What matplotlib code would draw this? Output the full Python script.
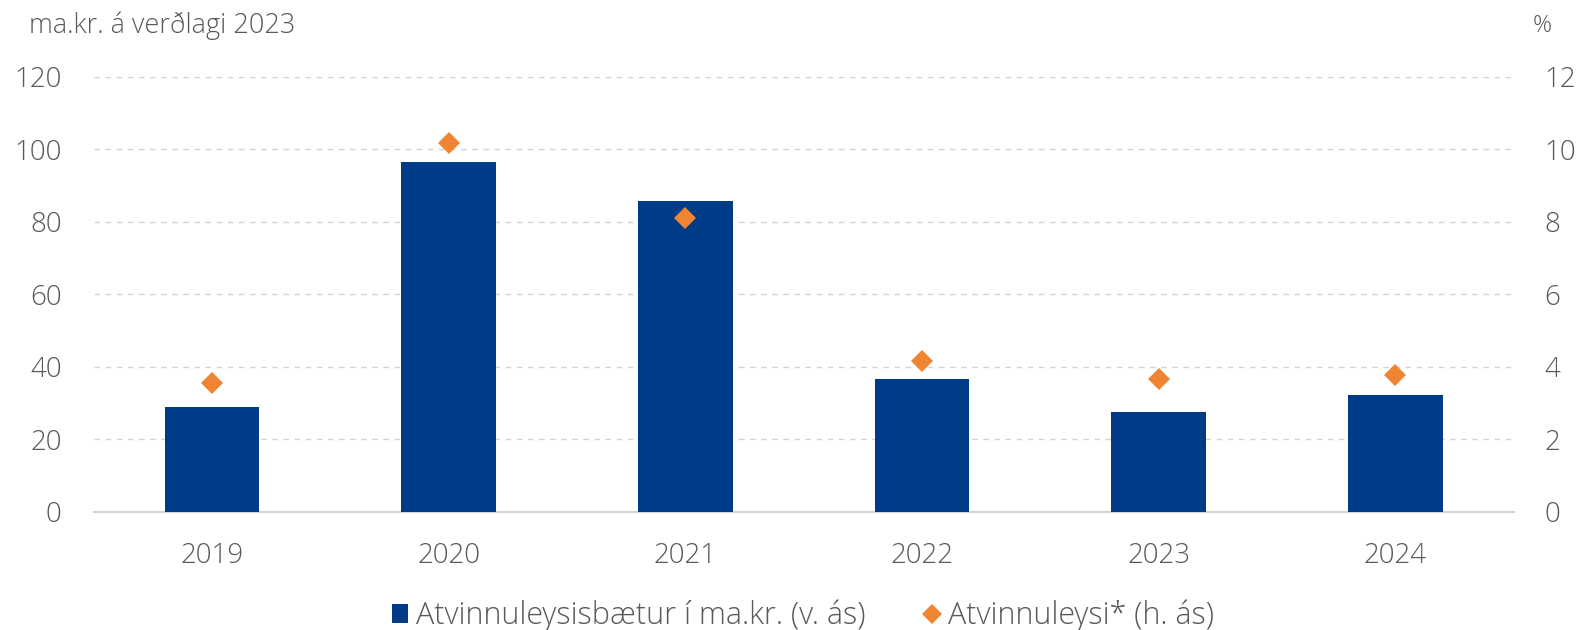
import numpy as np
import matplotlib
matplotlib.use('Agg')
import matplotlib.pyplot as plt
from matplotlib.patches import Patch
from matplotlib.lines import Line2D

# data
years = ['2019', '2020', '2021', '2022', '2023', '2024']
benefits_bn = [29.0, 96.6, 85.9, 36.6, 27.5, 32.2]     # ma.kr., left axis
unemployment_pct = [3.54, 10.17, 8.12, 4.16, 3.67, 3.77]  # %, right axis

left_ticks = [0, 20, 40, 60, 80, 100, 120]
right_ticks = [0, 2, 4, 6, 8, 10, 12]

BAR_COLOUR = '#003B87'
DOT_COLOUR = '#EF8433'
TEXT_COLOUR = '#595959'
GRID_COLOUR = '#D3D3D3'

plt.rcParams['font.family'] = ['Open Sans', 'DejaVu Sans']
plt.rcParams['font.weight'] = 'light'

fig = plt.figure(figsize=(15.93, 6.3), dpi=100)
ax = fig.add_axes([0.0588, 0.1878, 0.8914, 0.6900])
ax2 = ax.twinx()

x = np.arange(len(years))
ax.bar(x, benefits_bn, width=0.4, color=BAR_COLOUR, zorder=2)
ax2.plot(x, unemployment_pct, linestyle='none', marker='D', markersize=11.5,
         markeredgewidth=0, color=DOT_COLOUR, zorder=3)

# axes limits and ticks
ax.set_xlim(-0.5, len(years) - 0.5)
ax.set_ylim(0, 120)
ax2.set_ylim(0, 12)
ax.set_yticks(left_ticks)
ax2.set_yticks(right_ticks)
ax.set_xticks(x)
ax.set_xticklabels(years)

ax.tick_params(axis='y', length=0, pad=23, labelsize=20, labelcolor=TEXT_COLOUR)
ax2.tick_params(axis='y', length=0, pad=22, labelsize=20, labelcolor=TEXT_COLOUR)
ax.tick_params(axis='x', length=0, pad=22, labelsize=20, labelcolor=TEXT_COLOUR)

# dashed gridlines, solid baseline
ax.set_axisbelow(True)
ax.yaxis.grid(True, color=GRID_COLOUR, linewidth=1.0, linestyle=(0, (4, 4)))
for a in (ax, ax2):
  for side in ('top', 'left', 'right'):
    a.spines[side].set_visible(False)
ax2.spines['bottom'].set_visible(False)
ax.spines['bottom'].set_color(GRID_COLOUR)
ax.spines['bottom'].set_linewidth(1.5)
ax.spines['bottom'].set_zorder(1)

# axis titles
fig.text(0.0184, 0.959, 'ma.kr. á verðlagi 2023', fontsize=19.5, color=TEXT_COLOUR,
         ha='left', va='center')
fig.text(0.968, 0.959, '%', fontsize=17, color=TEXT_COLOUR, ha='center', va='center')

handles = [
    Patch(facecolor=BAR_COLOUR, edgecolor='none', label='Atvinnuleysisbætur í ma.kr. (v. ás)'),
    Line2D([], [], linestyle='none', marker='D', markersize=10.5, markeredgewidth=0,
           color=DOT_COLOUR, label='Atvinnuleysi* (h. ás)'),
]
leg = fig.legend(handles=handles, loc='center', bbox_to_anchor=(0.504, 0.022), ncol=2,
                 frameon=False, fontsize=22, handlelength=0.55, handleheight=0.55,
                 handletextpad=0.25, columnspacing=1.9)
for t in leg.get_texts():
  t.set_color(TEXT_COLOUR)

fig.savefig('out.png', dpi=100)
